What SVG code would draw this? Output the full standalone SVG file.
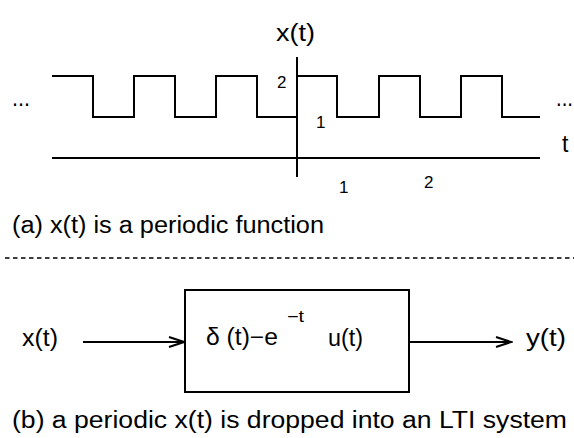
<svg xmlns="http://www.w3.org/2000/svg" width="574" height="438" viewBox="0 0 574 438">
<style>
text{font-family:"Liberation Sans",Arial,sans-serif;fill:#000}
.t{font-size:23px}
.n{font-size:17px}
.s{font-size:16px}
.ln{fill:none;stroke:#000;stroke-width:2}
</style>
<defs>
<marker id="ah" markerUnits="userSpaceOnUse" markerWidth="18" markerHeight="14" refX="16" refY="6" orient="auto">
<path d="M1,1 L16,6 L1,11" fill="none" stroke="#000" stroke-width="2"/>
</marker>
</defs>
<rect width="574" height="438" fill="#fff"/>
<g id="plot">
<line class="ln" x1="52" y1="158" x2="540" y2="158"/>
<line class="ln" x1="297" y1="57" x2="297" y2="177"/>
<path class="ln" d="M52,76 H93 V117 H134 V76 H175 V117 H216 V76 H257 V117 H297 V76 H337 V117 H379 V76 H420 V117 H461 V76 H502 V117 H540"/>
<text class="t" x="276" y="41" textLength="39" lengthAdjust="spacingAndGlyphs">x(t)</text>
<text class="n" x="277" y="88">2</text>
<text class="n" x="316" y="128">1</text>
<text class="n" x="339" y="193">1</text>
<text class="n" x="424" y="188">2</text>
<text class="t" x="12" y="106" textLength="18" lengthAdjust="spacingAndGlyphs">...</text>
<text class="t" x="556" y="106" textLength="17" lengthAdjust="spacingAndGlyphs">...</text>
<text class="t" x="562" y="152">t</text>
</g>
<text id="caption-a" class="t" x="12" y="233" textLength="312" lengthAdjust="spacingAndGlyphs">(a) x(t) is a periodic function</text>
<line id="divider" x1="5" y1="258" x2="574" y2="258" stroke="#000" stroke-width="1.5" stroke-dasharray="4.5 3.5"/>
<g id="input">
<text class="t" x="22" y="346" textLength="36" lengthAdjust="spacingAndGlyphs">x(t)</text>
</g>
<g id="lti">
<rect class="ln" x="185" y="290" width="224" height="102"/>
<text class="t" x="206" y="345" textLength="72" lengthAdjust="spacingAndGlyphs">δ (t)−e</text>
<text class="s" x="287" y="322" textLength="17" lengthAdjust="spacingAndGlyphs">−t</text>
<text class="t" x="328" y="346" textLength="35" lengthAdjust="spacingAndGlyphs">u(t)</text>
</g>
<g id="output">
<text class="t" x="526" y="346" textLength="40" lengthAdjust="spacingAndGlyphs">y(t)</text>
</g>
<g id="connectors">
<line class="ln" x1="83" y1="342" x2="184" y2="342" marker-end="url(#ah)"/>
<line class="ln" x1="409" y1="342" x2="511" y2="342" marker-end="url(#ah)"/>
</g>
<text id="caption-b" class="t" x="12" y="428" textLength="555" lengthAdjust="spacingAndGlyphs">(b) a periodic x(t) is dropped into an LTI system</text>
</svg>
